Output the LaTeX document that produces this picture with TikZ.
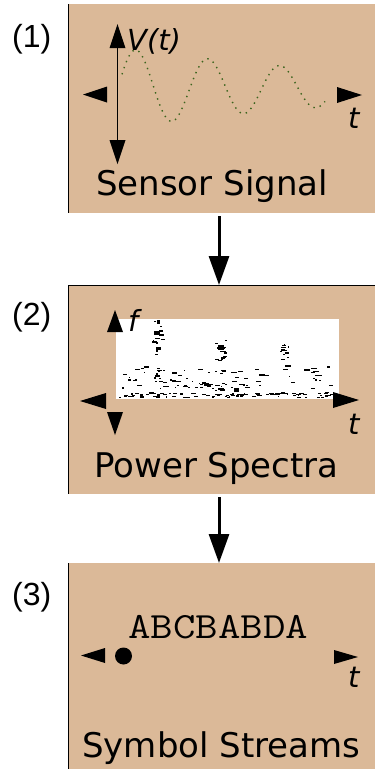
\documentclass[tikz,border=0pt]{standalone}
\usepackage{fontspec}
\newfontfamily\dv{DejaVu Sans}
\newfontfamily\ar{Liberation Sans}
\usetikzlibrary{arrows.meta}
\definecolor{paneltan}{RGB}{219,185,152}
\definecolor{wavegreen}{RGB}{60,100,30}
\begin{document}
\begin{tikzpicture}[x=1pt,y=-1pt,
  panel/.style={fill=paneltan, draw=none, inner sep=0pt, outer sep=0pt, anchor=north west, minimum width=307pt, minimum height=209pt},
  edge/.style={line width=1pt},
  lbl/.style={font=\dv\fontsize{34}{40}\selectfont, anchor=base west, inner sep=0pt},
  num/.style={font=\ar\fontsize{32}{38}\selectfont, anchor=base west, inner sep=0pt},
  axlbl/.style={font=\dv\itshape\fontsize{29}{34}\selectfont, anchor=base west, inner sep=0pt},
  flow/.style={line width=3pt, shorten <=3pt, -{Triangle[length=29pt,width=20pt]}},
  speck/.style={fill=black}
]
\useasboundingbox (0,0) rectangle (375,769);
\fill[white] (0,0) rectangle (375,769);

% panels
\node[panel] (p1) at (68,4) {};
\node[panel] (p2) at (68,285) {};
\node[panel] (p3) at (68,563) {};
\draw[edge] (p1.north west) -- (p1.south west);
\draw[edge] (p2.north west) -- (p2.south west);
\draw[edge] (p3.north west) -- (p3.south west);
\draw[edge] (p2.north west) -- (p2.north east);

% flow arrows
\coordinate (cx) at (219,0);
\draw[flow] (p1.south -| cx) -- (p2.north -| cx);
\draw[flow] (p2.south -| cx) -- (p3.north -| cx);

% numbers
\node[num] (n1) at (12,47) {(1)};
\node[num] (n2) at (12,325) {(2)};
\node[num] (n3) at (12,605) {(3)};

% panel titles
\node[lbl] (t1) at (96,195) {Sensor Signal};
\node[lbl] (t2) at (94,477) {Power Spectra};
\node[lbl] (t3) at (82,757) {Symbol Streams};

% ---- panel 1: sensor signal
\draw[wavegreen, line width=1.4pt, dash pattern=on 1.4pt off 5pt, domain=122:325, samples=200]
  plot (\x, {88 - 38*exp(-(\x-136)/273)*cos(5*(\x-136))});
\draw[line width=1.3pt] (117.5,46) -- (117.5,142);
\fill (117.5,24) -- (109.5,48) -- (125.5,48) -- cycle;
\fill (117.5,164) -- (109.5,140) -- (125.5,140) -- cycle;
\fill (83,94.5) -- (107,86.5) -- (107,102.5) -- cycle;
\fill (362,95) -- (337,87) -- (337,103) -- cycle;
\node[axlbl] (vt) at (127,50) {V(t)};
\node[axlbl] (tt1) at (348,128) {t};

% ---- panel 2: power spectra
\node[fill=white, inner sep=0pt, outer sep=0pt, minimum width=223pt, minimum height=80pt, anchor=north west] (spec) at (116,319) {};
\pgfmathsetseed{12345}
% bottom band
\foreach \i in {1,...,95}{
  \pgfmathsetmacro\sx{117+216*rnd}
  \pgfmathsetmacro\sy{392+5*rnd}
  \pgfmathsetmacro\sw{1+4*rnd}
  \fill[speck] (\sx,\sy) rectangle ++(\sw,1.3);
}
% middle band (left heavy)
\foreach \i in {1,...,55}{
  \pgfmathsetmacro\sx{117+140*rnd}
  \pgfmathsetmacro\sy{366+22*rnd}
  \pgfmathsetmacro\sw{1+5*rnd}
  \fill[speck] (\sx,\sy) rectangle ++(\sw,1.2);
}
% middle band (right sparse)
\foreach \i in {1,...,16}{
  \pgfmathsetmacro\sx{255+80*rnd}
  \pgfmathsetmacro\sy{362+26*rnd}
  \pgfmathsetmacro\sw{1+6*rnd}
  \fill[speck] (\sx,\sy) rectangle ++(\sw,1.2);
}
% column at x~157
\foreach \i in {1,...,22}{
  \pgfmathsetmacro\sx{152+9*rnd}
  \pgfmathsetmacro\sy{320+75*rnd}
  \pgfmathsetmacro\sw{1+4*rnd}
  \fill[speck] (\sx,\sy) rectangle ++(\sw,1.4);
}
% column at x~220
\foreach \i in {1,...,16}{
  \pgfmathsetmacro\sx{214+11*rnd}
  \pgfmathsetmacro\sy{340+22*rnd}
  \pgfmathsetmacro\sw{1+4*rnd}
  \fill[speck] (\sx,\sy) rectangle ++(\sw,1.4);
}
% column at x~283
\foreach \i in {1,...,12}{
  \pgfmathsetmacro\sx{277+11*rnd}
  \pgfmathsetmacro\sy{342+20*rnd}
  \pgfmathsetmacro\sw{1+4*rnd}
  \fill[speck] (\sx,\sy) rectangle ++(\sw,1.2);
}
% small cluster right
\foreach \i in {1,...,6}{
  \pgfmathsetmacro\sx{310+8*rnd}
  \pgfmathsetmacro\sy{372+8*rnd}
  \pgfmathsetmacro\sw{1+4*rnd}
  \fill[speck] (\sx,\sy) rectangle ++(\sw,1.2);
}
% cluster near (207,386)
\foreach \i in {1,...,14}{
  \pgfmathsetmacro\sx{197+25*rnd}
  \pgfmathsetmacro\sy{382+8*rnd}
  \pgfmathsetmacro\sw{1+4*rnd}
  \fill[speck] (\sx,\sy) rectangle ++(\sw,1.4);
}
\fill[speck] (154,331) rectangle ++(6,4);
\fill[speck] (156,347) rectangle ++(5,3);
\fill[speck] (218,345) rectangle ++(6,5);
\fill[speck] (234,388) rectangle ++(5,4);
\fill[speck] (157,320) rectangle ++(3,4);

\fill (115,310) -- (107,332) -- (123,332) -- cycle;
\fill (115,435) -- (107,412) -- (123,412) -- cycle;
\fill (80,401) -- (106,393) -- (106,409) -- cycle;
\fill (359,400) -- (333,392) -- (333,408) -- cycle;
\node[axlbl] (ff) at (128,331) {f};
\node[axlbl] (tt2) at (348,434) {t};

% ---- panel 3: symbol streams
\node[anchor=base west, inner sep=0pt, font=\ttfamily\fontsize{37}{40}\selectfont] (sym) at (128,638) {\scalebox{1.18}[1]{ABCBABDA}};
\fill (81,655.5) -- (105,648) -- (105,663) -- cycle;
\fill (358,657) -- (334,650) -- (334,664) -- cycle;
\fill (123.5,656) circle[radius=8.5];
\node[axlbl] (tt3) at (348,687) {t};
\end{tikzpicture}
\end{document}
